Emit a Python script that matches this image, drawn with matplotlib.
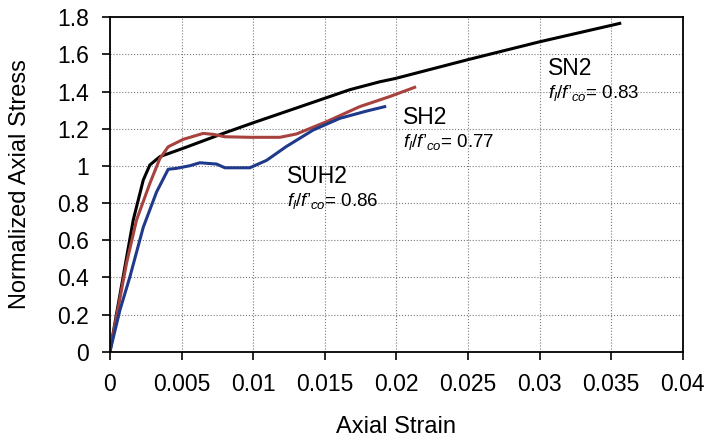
import numpy as np
import matplotlib
matplotlib.use('Agg')
import matplotlib.pyplot as plt
from matplotlib.ticker import FuncFormatter

plt.rcParams['font.family'] = ['Liberation Sans', 'DejaVu Sans']
plt.rcParams['mathtext.fontset'] = 'custom'
plt.rcParams['mathtext.rm'] = 'Liberation Sans'
plt.rcParams['mathtext.it'] = 'Liberation Sans:italic'

# Data (strain, normalized stress)
sn2_x = [0, 0.0005, 0.00105, 0.00163, 0.00233, 0.00279, 0.00349, 0.00512, 0.00791,
         0.0100, 0.01326, 0.01674, 0.01885, 0.0199, 0.0249, 0.0300, 0.0356]
sn2_y = [0, 0.22, 0.458, 0.709, 0.924, 1.005, 1.05, 1.095, 1.175,
         1.232, 1.318, 1.41, 1.453, 1.47, 1.570, 1.668, 1.767]

sh2_x = [0, 0.00116, 0.00186, 0.00279, 0.00349, 0.00407, 0.00512, 0.00651, 0.00721,
         0.00803, 0.00977, 0.01187, 0.01303, 0.01512, 0.01744, 0.01953, 0.02128]
sh2_y = [0, 0.476, 0.709, 0.906, 1.04, 1.103, 1.143, 1.175, 1.170,
         1.157, 1.154, 1.154, 1.172, 1.238, 1.319, 1.373, 1.423]

suh2_x = [0, 0.0007, 0.0014, 0.00233, 0.00326, 0.00407, 0.00465, 0.00558, 0.00628,
          0.00745, 0.00803, 0.00977, 0.01094, 0.01233, 0.01419, 0.01605, 0.01791,
          0.01919]
suh2_y = [0, 0.224, 0.404, 0.67, 0.86, 0.982, 0.987, 1.001, 1.017,
          1.010, 0.990, 0.990, 1.03, 1.105, 1.193, 1.256, 1.295,
          1.319]

labels = ['SN2', 'SH2', 'SUH2']
ratios = ['0.83', '0.77', '0.86']
label_pos = [(0.0306, 1.489, 1.365), (0.02046, 1.225, 1.10), (0.01236, 0.908, 0.784)]

xticks = np.arange(0, 0.0401, 0.005)
yticks = np.arange(0, 1.81, 0.2)

fig = plt.figure(figsize=(7.09, 4.43), dpi=100)
ax = fig.add_axes([0.155, 0.206, 0.808, 0.755])

ax.plot(sn2_x, sn2_y, color='black', lw=2.2)
ax.plot(sh2_x, sh2_y, color='#a8423e', lw=2.2)
ax.plot(suh2_x, suh2_y, color='#1f3a8a', lw=2.2)

for name, r, (x, y1, y2) in zip(labels, ratios, label_pos):
    ax.text(x, y1, name, fontsize=16.5, ha='left', va='baseline')
    ax.text(x, y2, "$f_l/f\u2019_{co}$= " + r, fontsize=13.5, ha='left', va='baseline')

ax.set_xlim(0, 0.04)
ax.set_ylim(0, 1.8)
ax.set_xticks(xticks)
ax.set_yticks(yticks)
ax.xaxis.set_major_formatter(FuncFormatter(lambda v, p: f'{v:g}'))
ax.yaxis.set_major_formatter(FuncFormatter(lambda v, p: f'{round(v, 1):g}'))
ax.tick_params(direction='out', length=6, width=1.2, labelsize=16.5)
ax.tick_params(axis='x', pad=9)
ax.tick_params(axis='y', pad=9)
ax.grid(True, color='#7a7a7a', ls=':', lw=0.8)
for s in ax.spines.values():
    s.set_linewidth(1.3)

ax.set_xlabel('Axial Strain', fontsize=17)
ax.set_ylabel('Normalized Axial Stress', fontsize=17)
ax.xaxis.set_label_coords(0.5, -0.193)
ax.yaxis.set_label_coords(-0.137, 0.5)

fig.savefig('out.png', dpi=100)
